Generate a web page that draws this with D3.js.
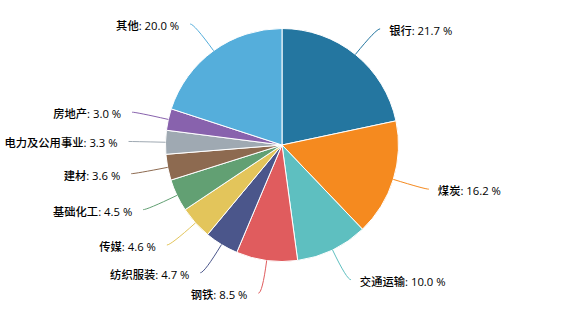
<!DOCTYPE html>
<html>
<head>
<meta charset="utf-8">
<script src="https://cdn.jsdelivr.net/npm/d3@7/dist/d3.min.js"></script>
<style>
html,body{margin:0;padding:0;background:#fff;}
svg{display:block;}
</style>
</head>
<body>
<svg id="chart" width="573" height="317"></svg>
<script>
const categories = ["银行","煤炭","交通运输","钢铁","纺织服装","传媒","基础化工","建材","电力及公用事业","房地产","其他"];
const values = [21.7,16.2,10.0,8.5,4.7,4.6,4.5,3.6,3.3,3.0,20.0];
const colors = ["#2476a0","#f58a1f","#5ebfc0","#e05c5e","#4b568b","#e3c55b","#62a073","#8d6a50","#9fa9b2","#8862ad","#55aedb"];

const W = 573, H = 317;
const cx = 282, cy = 145, R = 116.5;
const L1 = 33, L2 = 4;

const svg = d3.select("#chart");
const g = svg.append("g").attr("transform", `translate(${cx},${cy})`);

const data = categories.map((c, i) => ({name: c, value: values[i], color: colors[i]}));
const pie = d3.pie().sort(null).value(d => d.value).startAngle(0).endAngle(2 * Math.PI);
const arcs = pie(data);
const arc = d3.arc().innerRadius(0).outerRadius(R);

g.selectAll("path.slice").data(arcs).enter().append("path")
  .attr("class", "slice")
  .attr("d", arc)
  .attr("fill", d => d.data.color)
  .attr("stroke", "#fff")
  .attr("stroke-width", 1);

function pt(a, r) { return [r * Math.sin(a), -r * Math.cos(a)]; }

arcs.forEach(d => {
  const a = (d.startAngle + d.endAngle) / 2;
  const p1 = pt(a, R);
  const p2 = pt(a, R + L1);
  const right = Math.sin(a) >= 0;
  const p3 = [p2[0] + (right ? L2 : -L2), p2[1]];
  g.append("path")
    .attr("d", `M${p1[0]},${p1[1]}Q${p2[0]},${p2[1]} ${p3[0]},${p3[1]}`)
    .attr("fill", "none")
    .attr("stroke", d.data.color)
    .attr("stroke-width", 1);
  g.append("text")
    .attr("x", p3[0] + (right ? 9 : -11))
    .attr("y", p3[1] + 2)
    .attr("dy", "0.35em")
    .attr("text-anchor", right ? "start" : "end")
    .attr("font-family", "'Open Sans', 'Noto Sans CJK SC', sans-serif")
    .attr("font-size", 11.3)
    .attr("font-weight", 500)
    .attr("fill", "#000")
    .text(`${d.data.name}: ${d.data.value.toFixed(1)} %`);
});
</script>
</body>
</html>
